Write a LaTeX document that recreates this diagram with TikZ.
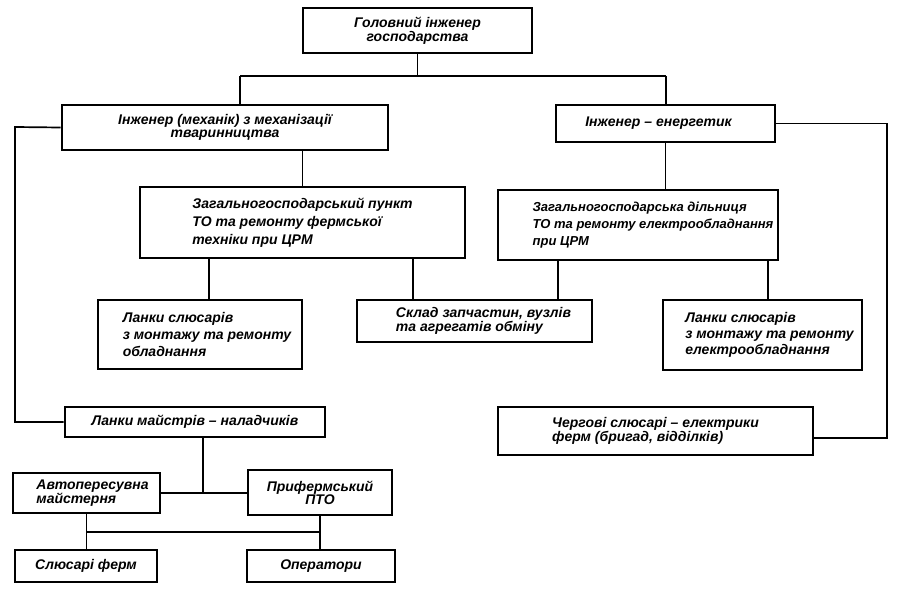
\documentclass[tikz,border=0pt]{standalone}
\usepackage{fontspec}
\setmainfont{Liberation Sans}
\newcommand{\fs}[1]{\bfseries\itshape\fontsize{14}{#1}\selectfont}
\begin{document}
\begin{tikzpicture}[x=1pt,y=-1pt,
  box/.style={draw, line width=2.8pt, inner sep=2pt, align=left,
    font=\fs{15}},
  conn/.style={line width=1.7pt}]
\useasboundingbox (0,0) rectangle (903,594);
\node[box, minimum width=229pt, minimum height=45pt, align=center, font=\fs{13}] (top) at (417.5,30.5) {Головний інженер\\господарства};
\node[box, minimum width=326pt, minimum height=45pt, align=center, font=\fs{13}] (le) at (225,127.5) {Інженер (механік) з механізації\\тваринництва};
\node[box, minimum width=219pt, minimum height=37pt] (re) at (665.5,123.5) {Інженер – енергетик\hspace{14pt}};
\node[box, minimum width=325pt, minimum height=71pt, font=\fs{18}] (lm) at (302.5,222.5) {Загальногосподарський пункт\\ТО та ремонту фермської\\техніки при ЦРМ};
\node[box, minimum width=280pt, minimum height=70pt,
  font=\bfseries\itshape\fontsize{13}{17}\selectfont] (rm) at (638,225) {\hspace{30pt}Загальногосподарська дільниця\\\hspace{30pt}ТО та ремонту електрообладнання\\\hspace{30pt}при ЦРМ};
\node[box, minimum width=204pt, minimum height=69pt, font=\fs{17}] (ls) at (200,334.5) {\hspace{14pt}Ланки слюсарів\\\hspace{14pt}з монтажу та ремонту\\\hspace{14pt}обладнання};
\node[box, minimum width=235pt, minimum height=42pt, font=\fs{13}] (sk) at (474.5,321) {\hspace{18pt}Склад запчастин, вузлів\\\hspace{18pt}та агрегатів обміну};
\node[box, minimum width=199pt, minimum height=70pt, font=\fs{16}] (rs) at (762.5,335) {\hspace{14pt}Ланки слюсарів\\\hspace{14pt}з монтажу та ремонту\\\hspace{14pt}електрообладнання};
\node[box, minimum width=260pt, minimum height=30pt] (lm2) at (195,422) {Ланки майстрів – наладчиків};
\node[box, minimum width=315pt, minimum height=48pt, font=\fs{12.5}] (cherg) at (655.5,431) {Чергові слюсарі – електрики\\ферм (бригад, відділків)};
\node[box, minimum width=147pt, minimum height=40pt, font=\fs{12.5}] (avto) at (86.5,493) {\hspace{12pt}Автопересувна\\\hspace{12pt}майстерня};
\node[box, minimum width=144pt, minimum height=45pt, align=center, font=\fs{13}] (prif) at (320,492.5) {Прифермський\\ПТО};
\node[box, minimum width=142pt, minimum height=32pt] (slf) at (86,566) {Слюсарі ферм};
\node[box, minimum width=148pt, minimum height=32pt] (oper) at (321,566) {Оператори};
% connectors
\coordinate (hl) at (240,76);
\coordinate (hr) at (666,76);
\draw[conn] (top.south) |- (hl);
\draw[conn] (hl) -- (hr);
\draw[conn] (hl) -- (hl |- le.north);
\draw[conn] (hr) -- (hr |- re.north);
\coordinate (lx) at (15,127);
\draw[conn] (le.west) -- (lx) |- (lm2.west);
\coordinate (rx) at (887,123.5);
\draw[conn] (re.east) -- (rx) |- ([yshift=-7pt]cherg.east);
\draw[conn] (le.south -| lm.north) -- (lm.north);
\draw[conn] (re.south) -- (re.south |- rm.north);
\draw[conn] ([xshift=9pt]ls.north) -- ([xshift=9pt]ls.north |- lm.south);
\draw[conn] ([xshift=-61.5pt]sk.north) -- ([xshift=-61.5pt]sk.north |- lm.south);
\draw[conn] ([xshift=83.5pt]sk.north) -- ([xshift=83.5pt]sk.north |- rm.south);
\draw[conn] ([xshift=5.5pt]rs.north) -- ([xshift=5.5pt]rs.north |- rm.south);
\draw[conn] (avto.east) -- (avto.east -| prif.west);
\draw[conn] ([xshift=8pt]lm2.south) -- ([xshift=8pt]lm2.south |- avto.east);
\coordinate (hb) at (0,532);
\draw[conn] (avto.south) -- (avto.south |- slf.north);
\draw[conn] (prif.south) -- (prif.south |- oper.north);
\draw[conn] (avto.south |- hb) -- (prif.south |- hb);
\end{tikzpicture}
\end{document}
